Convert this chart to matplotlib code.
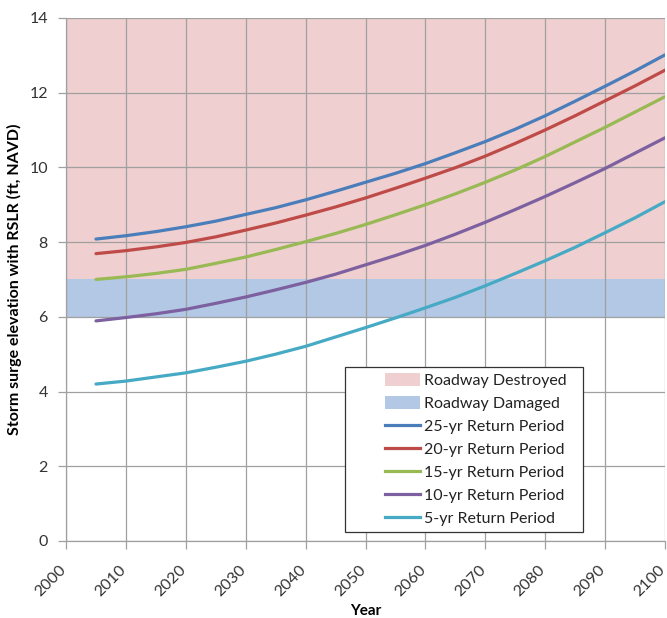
import matplotlib
matplotlib.use("Agg")
import matplotlib.pyplot as plt
import matplotlib.transforms as mtransforms
from matplotlib.patches import Patch, Rectangle
from matplotlib.lines import Line2D

plt.rcParams['font.family'] = ['Lato', 'DejaVu Sans']

years = [2005, 2010, 2015, 2020, 2025, 2030, 2035, 2040, 2045, 2050,
         2055, 2060, 2065, 2070, 2075, 2080, 2085, 2090, 2095, 2100]
rp25 = [8.08, 8.17, 8.28, 8.41, 8.56, 8.74, 8.92, 9.13, 9.36, 9.60,
        9.84, 10.10, 10.39, 10.69, 11.02, 11.38, 11.77, 12.17, 12.58, 13.01]
rp20 = [7.69, 7.77, 7.87, 7.99, 8.14, 8.32, 8.51, 8.72, 8.94, 9.18,
        9.44, 9.71, 9.99, 10.30, 10.64, 11.00, 11.38, 11.78, 12.18, 12.60]
rp15 = [7.00, 7.07, 7.16, 7.27, 7.43, 7.60, 7.80, 8.01, 8.23, 8.47,
        8.73, 9.00, 9.29, 9.60, 9.93, 10.29, 10.68, 11.07, 11.48, 11.89]
rp10 = [5.89, 5.98, 6.08, 6.20, 6.36, 6.53, 6.72, 6.92, 7.14, 7.39,
        7.64, 7.91, 8.21, 8.53, 8.87, 9.22, 9.59, 9.97, 10.38, 10.79]
rp5 = [4.20, 4.28, 4.39, 4.50, 4.65, 4.81, 5.00, 5.21, 5.46, 5.71,
       5.97, 6.24, 6.52, 6.83, 7.16, 7.50, 7.86, 8.25, 8.65, 9.08]

destroyed_band = (7, 14)
damaged_band = (6, 7)

series_names = ["25-yr Return Period", "20-yr Return Period", "15-yr Return Period",
                "10-yr Return Period", "5-yr Return Period"]
series_colors = ["#4a7ebb", "#be4b48", "#98b954", "#7d60a0", "#46aac5"]
series = [rp25, rp20, rp15, rp10, rp5]

fig = plt.figure(figsize=(6.67, 6.18), dpi=100)
ax = fig.add_axes([0.099, 0.1246, 0.898, 0.8465])

pink = "#efcfcf"
blue = "#b3c8e4"
ax.axhspan(*destroyed_band, color=pink, zorder=0, lw=0)
ax.axhspan(*damaged_band, color=blue, zorder=0, lw=0)

for vals, c in zip(series, series_colors):
    ax.plot(years, vals, color=c, lw=2.3, zorder=3, solid_capstyle="round")

ax.set_xlim(2000, 2100)
ax.set_ylim(0, 14)
ax.set_xticks(range(2000, 2101, 10))
ax.set_yticks(range(0, 15, 2))
ax.grid(True, color="#a0a0a0", lw=0.9, zorder=1)
ax.set_axisbelow(False)
for sp in ["top", "right"]:
    ax.spines[sp].set_visible(False)
for sp in ["left", "bottom"]:
    ax.spines[sp].set_color("#a0a0a0")
    ax.spines[sp].set_linewidth(0.9)
ax.tick_params(axis="both", colors="#a0a0a0", length=6, width=0.9, labelcolor="#333333", labelsize=11.5)
ax.tick_params(axis="y", pad=7)
ax.tick_params(axis="x", pad=13)
offset = mtransforms.ScaledTranslation(-2 / 100, 0, fig.dpi_scale_trans)
for lab in ax.get_xticklabels():
    lab.set_rotation(45)
    lab.set_ha("right")
    lab.set_va("center")
    lab.set_rotation_mode("anchor")
    lab.set_transform(lab.get_transform() + offset)

ax.set_xlabel("Year", fontsize=11, fontweight="bold", labelpad=4)
ax.set_ylabel("Storm surge elevation with RSLR (ft, NAVD)", fontsize=11.5, fontweight="bold", labelpad=5)

# legend frame
frame = Rectangle((0.466, 0.017), 0.397, 0.316, transform=ax.transAxes,
                  facecolor="white", edgecolor="#333333", lw=0.9, zorder=5)
ax.add_patch(frame)

handles = [Patch(facecolor=pink, edgecolor="none", label="Roadway Destroyed"),
           Patch(facecolor=blue, edgecolor="none", label="Roadway Damaged")]
for n, c in zip(series_names, series_colors):
    handles.append(Line2D([0], [0], color=c, lw=2.3, label=n))
leg = ax.legend(handles=handles, loc="center", bbox_to_anchor=(0.684, 0.175),
                fontsize=11.5, frameon=False, handlelength=2.2, handleheight=0.9,
                handletextpad=0.2, labelspacing=0.5, borderpad=0.0)
leg.set_zorder(6)
for t in leg.get_texts():
    t.set_color("#222222")

fig.savefig("out.png", dpi=100, facecolor="white")
